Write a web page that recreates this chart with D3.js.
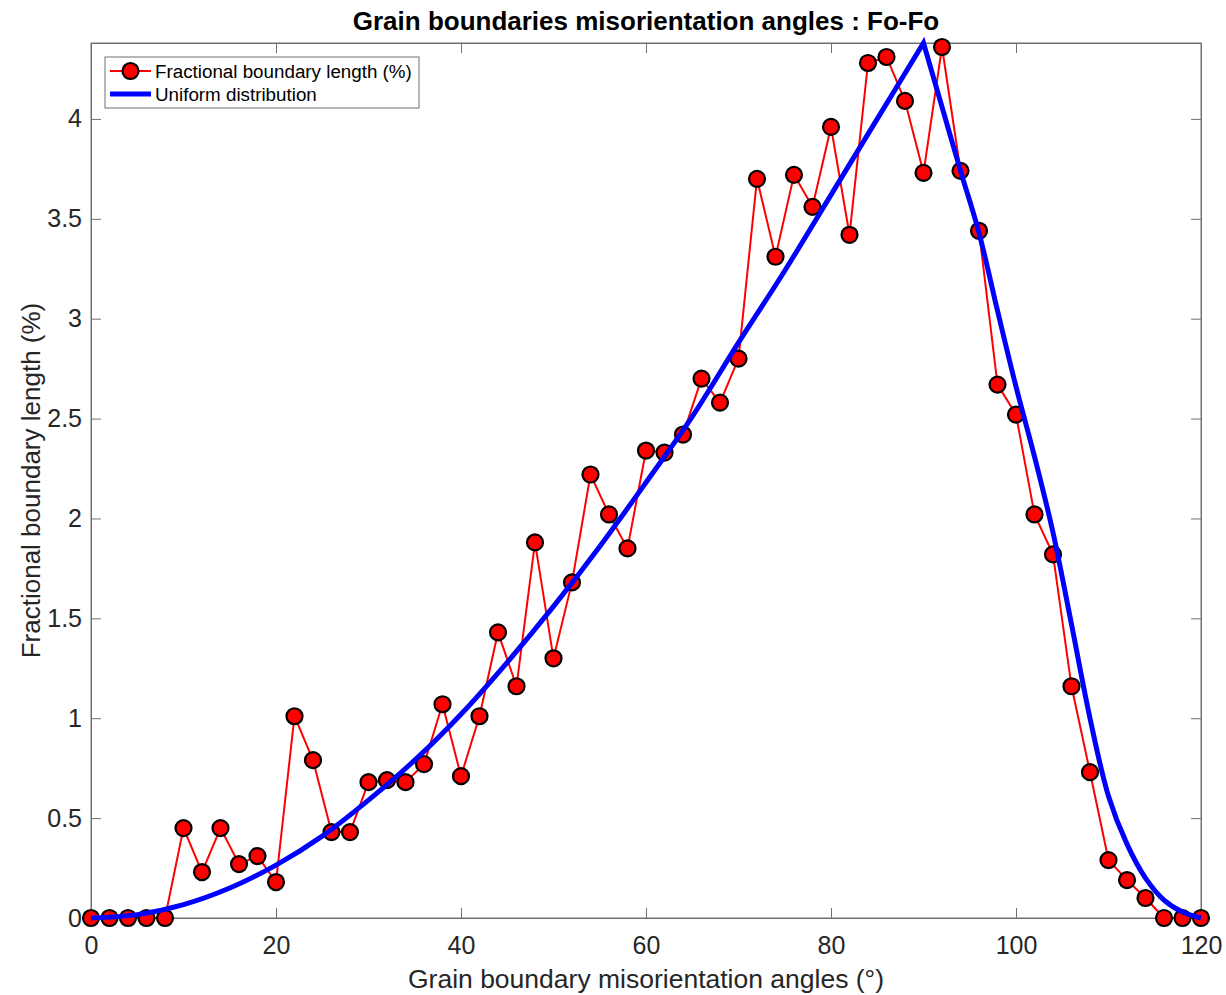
<!DOCTYPE html>
<html>
<head>
<meta charset="utf-8">
<script src="https://cdn.jsdelivr.net/npm/d3@7"></script>
<style>
  html, body { margin: 0; padding: 0; background: #fff; }
  svg { display: block; font-family: "Liberation Sans", Arial, Helvetica, sans-serif; }
</style>
</head>
<body>
<svg id="chart" width="1226" height="995"></svg>
<script>
// Misorientation angle bins (degrees) and measured fractional boundary length (%)
const angles = [0, 2, 4, 6, 8, 10, 12, 14, 16, 18, 20, 22, 24, 26, 28, 30, 32, 34, 36, 38,
  40, 42, 44, 46, 48, 50, 52, 54, 56, 58, 60, 62, 64, 66, 68, 70, 72, 74, 76, 78,
  80, 82, 84, 86, 88, 90, 92, 94, 96, 98, 100, 102, 104, 106, 108, 110, 112, 114, 116, 118, 120];
const fractionalLength = [0, 0, 0, 0, 0, 0.45, 0.23, 0.45, 0.27, 0.31, 0.18, 1.01, 0.79, 0.43, 0.43, 0.68, 0.69, 0.68, 0.77, 1.07,
  0.71, 1.01, 1.43, 1.16, 1.88, 1.30, 1.68, 2.22, 2.02, 1.85, 2.34, 2.33, 2.42, 2.70, 2.58, 2.80, 3.70, 3.31, 3.72, 3.56,
  3.96, 3.42, 4.28, 4.31, 4.09, 3.73, 4.36, 3.74, 3.44, 2.67, 2.52, 2.02, 1.82, 1.16, 0.73, 0.29, 0.19, 0.10, 0, 0, 0];

// Uniform (random) misorientation distribution
const uniformAngles = [0, 5, 10, 15, 20, 25, 30, 35, 40, 45, 50, 55, 60, 65, 70, 75, 80, 85, 90,
  92, 94, 96, 98, 100, 102, 104, 106, 108, 110, 112, 114, 116, 118, 120];
const uniformValues = [0, 0.017, 0.067, 0.15, 0.265, 0.41, 0.59, 0.79, 1.02, 1.28, 1.56, 1.86, 2.18, 2.51, 2.88, 3.24, 3.62, 4.00, 4.38,
  4.06, 3.74, 3.43, 3.04, 2.66, 2.31, 1.93, 1.47, 1.00, 0.61, 0.37, 0.20, 0.09, 0.03, 0];

const xTicks = [0, 20, 40, 60, 80, 100, 120];
const yTicks = [0, 0.5, 1, 1.5, 2, 2.5, 3, 3.5, 4];

const titleText = "Grain boundaries misorientation angles : Fo-Fo";
const xLabel = "Grain boundary misorientation angles (°)";
const yLabel = "Fractional boundary length (%)";
const legendLabels = ["Fractional boundary length (%)", "Uniform distribution"];

const svg = d3.select("#chart");
const margin = { left: 91, right: 1201, top: 43, bottom: 918 };

const x = d3.scaleLinear().domain([0, 120]).range([margin.left, margin.right]);
const y = d3.scaleLinear().domain([0, 4.38]).range([margin.bottom, margin.top]);

const axisColor = "#707070";
const textColor = "#262626";
const fontStack = "'Liberation Sans', Arial, Helvetica, sans-serif";

// Axes box
svg.append("rect")
  .attr("x", margin.left).attr("y", margin.top)
  .attr("width", margin.right - margin.left).attr("height", margin.bottom - margin.top)
  .attr("fill", "none").attr("stroke", axisColor).attr("stroke-width", 1);

// Bottom axis (ticks inward)
const xAxis = d3.axisBottom(x).tickValues(xTicks).tickSizeInner(-10).tickSizeOuter(0).tickPadding(18).tickFormat(d3.format("d"));
const gx = svg.append("g").attr("transform", `translate(0,${margin.bottom})`).call(xAxis);
// Top axis mirror ticks
const gxTop = svg.append("g").attr("transform", `translate(0,${margin.top})`)
  .call(d3.axisTop(x).tickValues(xTicks).tickSizeInner(-10).tickSizeOuter(0).tickFormat(""));
// Left axis
const yAxis = d3.axisLeft(y).tickValues(yTicks).tickSizeInner(-10).tickSizeOuter(0).tickPadding(9).tickFormat(d => String(d));
const gy = svg.append("g").attr("transform", `translate(${margin.left},0)`).call(yAxis);
// Right axis mirror ticks
const gyRight = svg.append("g").attr("transform", `translate(${margin.right},0)`)
  .call(d3.axisRight(y).tickValues(yTicks).tickSizeInner(-10).tickSizeOuter(0).tickFormat(""));

[gx, gxTop, gy, gyRight].forEach(g => {
  g.select(".domain").attr("stroke", axisColor);
  g.selectAll(".tick line").attr("stroke", axisColor);
  g.selectAll(".tick text")
    .attr("fill", textColor)
    .style("font-size", "25px")
    .style("font-family", fontStack);
});

// Measured series: red line
const measured = angles.map((a, i) => ({ a, v: fractionalLength[i] }));
svg.append("path")
  .datum(measured)
  .attr("fill", "none")
  .attr("stroke", "#ff0000")
  .attr("stroke-width", 2)
  .attr("stroke-linejoin", "round")
  .attr("d", d3.line().x(d => x(d.a)).y(d => y(d.v)));

// Measured series: markers
svg.append("g").selectAll("circle")
  .data(measured)
  .join("circle")
  .attr("cx", d => x(d.a))
  .attr("cy", d => y(d.v))
  .attr("r", 8)
  .attr("fill", "#ff0000")
  .attr("stroke", "#000")
  .attr("stroke-width", 2.2);

// Uniform distribution: smooth rise, sharp peak, smooth tail (drawn on top)
const uniform = uniformAngles.map((a, i) => ({ a, v: uniformValues[i] }));
const peakIdx = uniformValues.indexOf(d3.max(uniformValues));
const smoothLine = d3.line().x(d => x(d.a)).y(d => y(d.v)).curve(d3.curveCatmullRom.alpha(0.5));
svg.append("path")
  .attr("fill", "none")
  .attr("stroke", "#0000ff")
  .attr("stroke-width", 5)
  .attr("stroke-linejoin", "miter")
  .attr("d", smoothLine(uniform.slice(0, peakIdx + 1)) + smoothLine(uniform.slice(peakIdx)).replace(/^M/, "L"));

// Title
svg.append("text")
  .attr("x", (margin.left + margin.right) / 2)
  .attr("y", 30)
  .attr("text-anchor", "middle")
  .attr("fill", "#000")
  .style("font-size", "26px")
  .style("font-weight", "bold")
  .text(titleText);

// Axis labels
svg.append("text")
  .attr("x", (margin.left + margin.right) / 2)
  .attr("y", 988)
  .attr("text-anchor", "middle")
  .attr("fill", textColor)
  .style("font-size", "26.5px")
  .text(xLabel);

svg.append("text")
  .attr("transform", `translate(40,${(margin.top + margin.bottom) / 2}) rotate(-90)`)
  .attr("text-anchor", "middle")
  .attr("fill", textColor)
  .style("font-size", "26px")
  .text(yLabel);

// Legend
const lg = svg.append("g");
lg.append("rect")
  .attr("x", 105).attr("y", 57).attr("width", 314).attr("height", 51)
  .attr("fill", "#fff").attr("stroke", axisColor).attr("stroke-width", 1);
lg.append("line")
  .attr("x1", 110).attr("x2", 151).attr("y1", 71).attr("y2", 71)
  .attr("stroke", "#ff0000").attr("stroke-width", 2);
lg.append("circle")
  .attr("cx", 130.5).attr("cy", 71).attr("r", 8)
  .attr("fill", "#ff0000").attr("stroke", "#000").attr("stroke-width", 2.2);
lg.append("line")
  .attr("x1", 110).attr("x2", 151).attr("y1", 94).attr("y2", 94)
  .attr("stroke", "#0000ff").attr("stroke-width", 5);
legendLabels.forEach((t, i) => {
  lg.append("text")
    .attr("x", 155).attr("y", 78 + i * 23)
    .attr("fill", "#000")
    .style("font-size", "18.8px")
    .text(t);
});
</script>
</body>
</html>
